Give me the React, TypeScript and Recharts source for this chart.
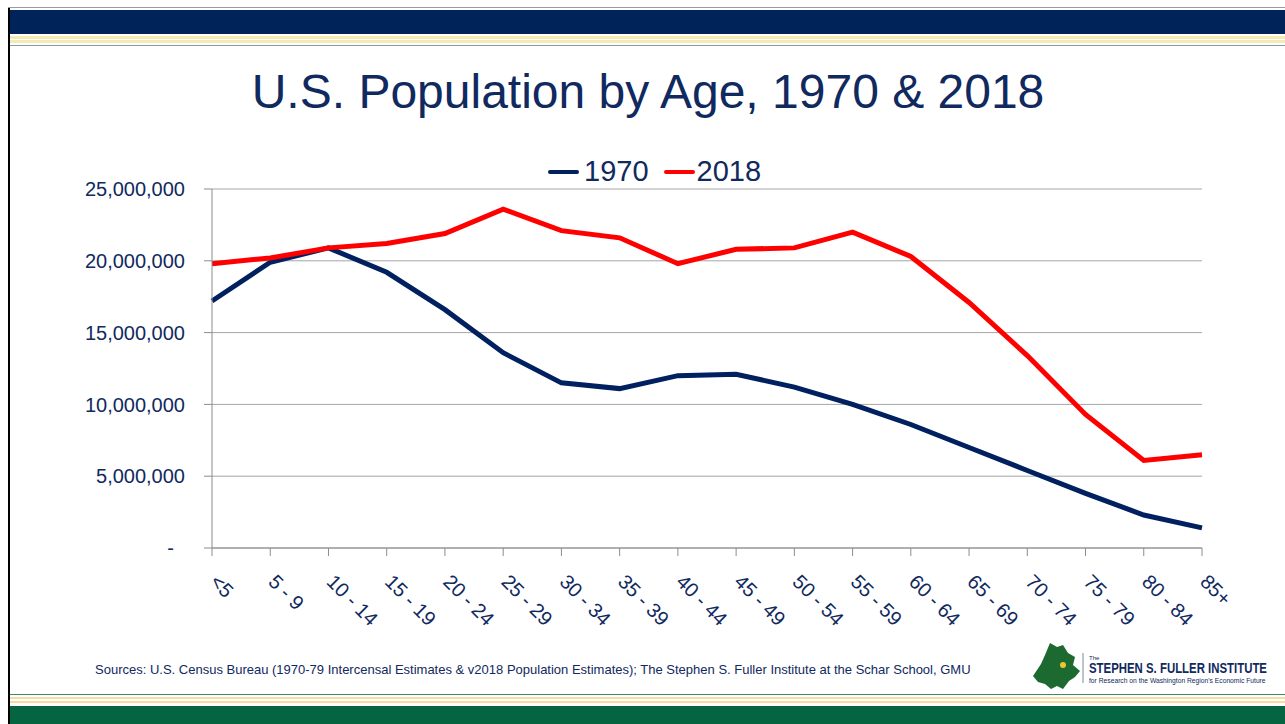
import React from "react";
import { LineChart, Line, XAxis, YAxis, CartesianGrid } from "recharts";

const ageGroups = [
  "<5", "5 - 9", "10 - 14", "15 - 19", "20 - 24", "25 - 29", "30 - 34", "35 - 39", "40 - 44",
  "45 - 49", "50 - 54", "55 - 59", "60 - 64", "65 - 69", "70 - 74", "75 - 79", "80 - 84", "85+",
];
const pop1970 = [
  17200000, 19900000, 20900000, 19200000, 16600000, 13600000, 11500000, 11100000, 12000000,
  12100000, 11200000, 10000000, 8600000, 7000000, 5400000, 3800000, 2300000, 1400000,
];
const pop2018 = [
  19800000, 20200000, 20900000, 21200000, 21900000, 23600000, 22100000, 21600000, 19800000,
  20800000, 20900000, 22000000, 20300000, 17100000, 13400000, 9300000, 6100000, 6500000,
];
const yTicks = [0, 5000000, 10000000, 15000000, 20000000, 25000000];

const NAVY = "#002060";
const TEXT = "#10295e";
const RED = "#ff0000";
const FONT = "'Liberation Sans', Arial, sans-serif";

const data = ageGroups.map((age, i) => ({ age, y1970: pop1970[i], y2018: pop2018[i] }));

function AgeTick(props: any) {
  const { x, y, payload } = props;
  return (
    <text
      transform={`translate(${x - 3},${y + 25}) rotate(45)`}
      textAnchor="start"
      fontSize={20}
      fontFamily={FONT}
      fill={TEXT}
    >
      {payload.value}
    </text>
  );
}

function PopTick(props: any) {
  const { x, y, payload } = props;
  const zero = payload.value === 0;
  return (
    <text
      x={zero ? x - 11 : x}
      y={y}
      dy="0.36em"
      textAnchor="end"
      fontSize={20}
      fontFamily={FONT}
      fill={TEXT}
    >
      {zero ? "-" : payload.value.toLocaleString("en-US")}
    </text>
  );
}

export default function App() {
  return (
    <div style={{ position: "absolute", left: 0, top: 0, width: 1285, height: 724, background: "#fff", overflow: "hidden", fontFamily: FONT }}>
      {/* slide frame */}
      <div style={{ position: "absolute", left: 8, top: 7, width: 1277, height: 1, background: "#9a9a9a" }} />
      <div style={{ position: "absolute", left: 8, top: 8, width: 2, height: 716, background: "#000" }} />
      <div style={{ position: "absolute", left: 10, top: 10, width: 1275, height: 24, background: "#00245a" }} />
      <div style={{ position: "absolute", left: 10, top: 36, width: 1275, height: 3, background: "#f3ebb4" }} />
      <div style={{ position: "absolute", left: 10, top: 40, width: 1275, height: 3, background: "#f3ebb4" }} />
      <div style={{ position: "absolute", left: 10, top: 45, width: 1275, height: 1, background: "#8a9aaa" }} />

      <div style={{ position: "absolute", left: 10, top: 694, width: 1275, height: 1, background: "#3c8a66" }} />
      <div style={{ position: "absolute", left: 10, top: 697, width: 1275, height: 2, background: "#f6dca0" }} />
      <div style={{ position: "absolute", left: 10, top: 701, width: 1275, height: 2, background: "#f6dca0" }} />
      <div style={{ position: "absolute", left: 10, top: 706, width: 1275, height: 18, background: "#066541" }} />

      {/* title */}
      <div style={{ position: "absolute", left: 0, top: 68, width: 1296, textAlign: "center", fontSize: 48, lineHeight: "48px", color: TEXT }}>
        U.S. Population by Age, 1970 &amp; 2018
      </div>

      {/* legend */}
      <div style={{ position: "absolute", left: 548, top: 157, display: "flex", alignItems: "center", fontSize: 29, lineHeight: "29px", color: TEXT }}>
        <span style={{ display: "inline-block", width: 31, height: 4, background: NAVY, borderRadius: 2, marginRight: 5 }} />
        <span>1970</span>
        <span style={{ display: "inline-block", width: 31, height: 4, background: RED, borderRadius: 2, marginLeft: 15, marginRight: 2 }} />
        <span>2018</span>
      </div>

      <div style={{ position: "absolute", left: 0, top: 0 }}>
        <LineChart width={1285} height={724} data={data} margin={{ top: 189, right: 83, bottom: 96, left: 0 }}>
          <CartesianGrid vertical={false} stroke="#a6a6a6" />
          <XAxis
            dataKey="age"
            scale="point"
            interval={0}
            height={80}
            stroke="#8c8c8c"
            tickSize={8}
            tickMargin={2}
            tick={<AgeTick />}
          />
          <YAxis
            width={212}
            domain={[0, 25000000]}
            ticks={yTicks}
            interval={0}
            stroke="#8c8c8c"
            tickSize={8}
            tickMargin={19}
            tick={<PopTick />}
          />
          <Line dataKey="y1970" stroke={NAVY} strokeWidth={5} dot={false} isAnimationActive={false} />
          <Line dataKey="y2018" stroke={RED} strokeWidth={5} dot={false} isAnimationActive={false} />
        </LineChart>
      </div>

      {/* sources */}
      <div style={{ position: "absolute", left: 95, top: 663, fontSize: 13, lineHeight: "13px", color: TEXT, whiteSpace: "nowrap" }}>
        Sources: U.S. Census Bureau (1970-79 Intercensal Estimates &amp; v2018 Population Estimates); The Stephen S. Fuller Institute at the Schar School, GMU
      </div>

      {/* logo */}
      <svg style={{ position: "absolute", left: 1030, top: 642 }} width={60} height={50}>
        <polygon
          points="20,1 27,5 33,3 38,11 45,15 43,23 50,29 45,35 39,39 33,47 27,44 21,47 15,42 8,40 3,34 7,28 11,22 15,13"
          fill="#1d6a31"
        />
        <circle cx={33} cy={23} r={3} fill="#f2c330" />
        <line x1={53} y1={11} x2={53} y2={41} stroke="#7a8aa0" strokeWidth={1} />
      </svg>
      <div style={{ position: "absolute", left: 1089, top: 655, fontSize: 6, lineHeight: "6px", color: TEXT }}>The</div>
      <div style={{ position: "absolute", left: 1089, top: 660, fontSize: 15, lineHeight: "15px", fontWeight: "bold", color: TEXT, transform: "scaleX(0.76)", transformOrigin: "left", whiteSpace: "nowrap" }}>
        STEPHEN S. FULLER INSTITUTE
      </div>
      <div style={{ position: "absolute", left: 1089, top: 677, fontSize: 7, lineHeight: "7px", color: TEXT, transform: "scaleX(0.96)", transformOrigin: "left", whiteSpace: "nowrap" }}>
        for Research on the Washington Region's Economic Future
      </div>
    </div>
  );
}
